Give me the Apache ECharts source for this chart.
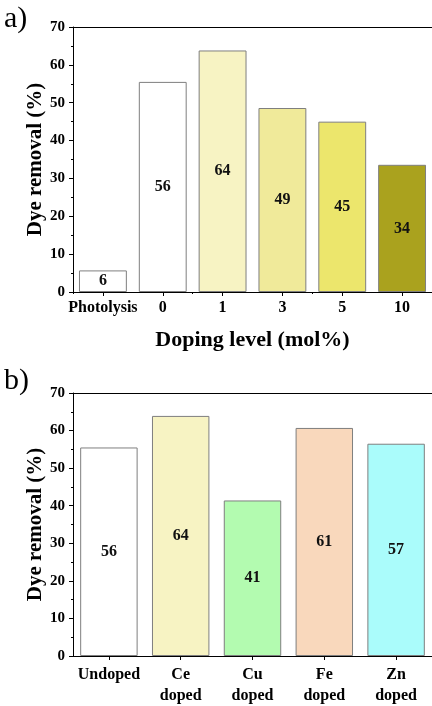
<!DOCTYPE html>
<html>
<head>
<meta charset="utf-8">
<script src="https://cdn.jsdelivr.net/npm/echarts@6/dist/echarts.min.js"></script>
<style>
html,body{margin:0;padding:0;background:#fff;}
#c{width:432px;height:706px;}
</style>
</head>
<body>
<div id="c"></div>
<script>
// Panel a)
const catsA = ['Photolysis', '0', '1', '3', '5', '10'];
const valsA = [5.7, 55.5, 63.8, 48.6, 45.0, 33.6];
const labelsA = ['6', '56', '64', '49', '45', '34'];
const colorsA = ['#ffffff', '#ffffff', '#f7f3c3', '#f0ea9a', '#ece66c', '#aaa21e'];
// Panel b)
const catsB = ['Undoped', 'Ce\ndoped', 'Cu\ndoped', 'Fe\ndoped', 'Zn\ndoped'];
const valsB = [55.5, 63.9, 41.4, 60.7, 56.5];
const labelsB = ['56', '64', '41', '61', '57'];
const colorsB = ['#ffffff', '#f7f3c3', '#b3fbb0', '#f9d8bc', '#aafcfb'];
const yTicks = [0, 10, 20, 30, 40, 50, 60, 70];

const FONT = '"Liberation Serif", "Times New Roman", serif';
const black = '#000';

function yAxis(gridIndex) {
  return {
    type: 'value', gridIndex: gridIndex, min: yTicks[0], max: yTicks[yTicks.length - 1], interval: 10,
    name: 'Dye removal (%)', nameLocation: 'middle', nameGap: 27, nameMoveOverlap: false,
    nameTextStyle: {fontFamily: FONT, fontWeight: 'bold', fontSize: 21, color: black},
    axisLine: {show: true, lineStyle: {color: black, width: 1}},
    axisTick: {show: true, length: 4, lineStyle: {color: black}},
    minorTick: {show: true, splitNumber: 2, length: 2, lineStyle: {color: black}},
    splitLine: {show: false},
    axisLabel: {fontFamily: FONT, fontWeight: 'bold', fontSize: 15, color: black, margin: 8}
  };
}

function bars(vals, labels, colors, xi, yi) {
  return {
    type: 'bar', xAxisIndex: xi, yAxisIndex: yi, barCategoryGap: '20%',
    data: vals.map((v, i) => ({
      value: v,
      itemStyle: {color: colors[i], borderColor: '#7f7f7f', borderWidth: 1},
      label: {formatter: labels[i]}
    })),
    label: {show: true, position: 'inside', fontFamily: FONT, fontWeight: 'bold', fontSize: 16, color: '#111'},
    emphasis: {disabled: true},
    animation: false
  };
}

const chart = echarts.init(document.getElementById('c'));
chart.setOption({
  animation: false,
  graphic: [
    {type: 'text', left: 4, top: 4, style: {text: 'a)', font: '30px ' + FONT, fill: black}},
    {type: 'text', left: 4, top: 366, style: {text: 'b)', font: '30px ' + FONT, fill: black}}
  ],
  grid: [
    {left: 73, top: 27, width: 362, height: 265},
    {left: 73, top: 393, width: 362, height: 264}
  ],
  xAxis: [
    {
      type: 'category', gridIndex: 0, data: catsA, position: 'bottom',
      name: 'Doping level (mol%)', nameLocation: 'middle', nameGap: 37, nameMoveOverlap: false,
      nameTextStyle: {fontFamily: FONT, fontWeight: 'bold', fontSize: 22, color: black},
      axisLine: {show: true, lineStyle: {color: black}},
      axisTick: {show: true, alignWithLabel: true, length: 4, lineStyle: {color: black}},
      axisLabel: {interval: 0, fontFamily: FONT, fontWeight: 'bold', fontSize: 16, color: black, margin: 8}
    },
    {
      type: 'category', gridIndex: 0, data: catsA, position: 'bottom',
      axisLine: {show: false},
      axisTick: {show: true, alignWithLabel: false, length: 2, lineStyle: {color: black}},
      axisLabel: {show: false}
    },
    {
      type: 'category', gridIndex: 0, data: catsA, position: 'top',
      axisLine: {show: true, lineStyle: {color: black}},
      axisTick: {show: false}, axisLabel: {show: false}
    },
    {
      type: 'category', gridIndex: 1, data: catsB, position: 'bottom',
      axisLine: {show: true, lineStyle: {color: black}},
      axisTick: {show: true, alignWithLabel: true, length: 4, lineStyle: {color: black}},
      axisLabel: {interval: 0, fontFamily: FONT, fontWeight: 'bold', fontSize: 16, lineHeight: 21, color: black, margin: 8}
    },
    {
      type: 'category', gridIndex: 1, data: catsB, position: 'top',
      axisLine: {show: true, lineStyle: {color: black}},
      axisTick: {show: false}, axisLabel: {show: false}
    }
  ],
  yAxis: [yAxis(0), yAxis(1)],
  series: [
    bars(valsA, labelsA, colorsA, 0, 0),
    bars(valsB, labelsB, colorsB, 3, 1)
  ]
});
</script>
</body>
</html>
